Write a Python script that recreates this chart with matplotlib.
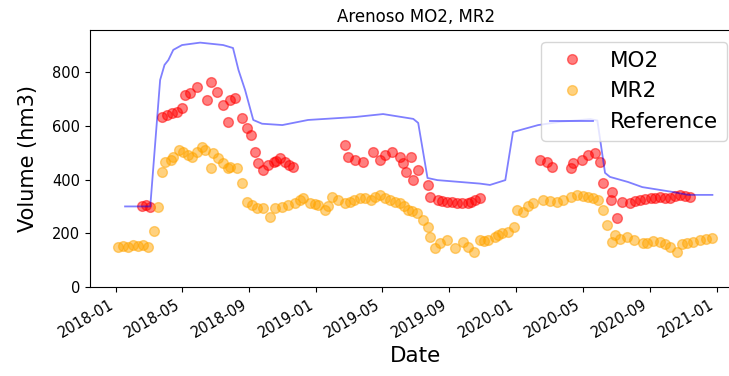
import matplotlib
matplotlib.use("Agg")
import matplotlib.pyplot as plt
import matplotlib.dates as mdates
import pandas as pd

# Reservoir volume series (hm3)
mo2_dates = [
    "2018-02-17", "2018-02-25", "2018-03-04", "2018-03-26", "2018-04-04", "2018-04-13",
    "2018-04-22", "2018-05-01", "2018-05-07", "2018-05-16", "2018-05-29", "2018-06-16",
    "2018-06-23", "2018-07-04", "2018-07-15", "2018-07-23", "2018-07-28", "2018-08-06",
    "2018-08-19", "2018-08-28", "2018-09-03", "2018-09-12", "2018-09-17", "2018-09-26",
    "2018-10-05", "2018-10-15", "2018-10-20", "2018-10-27", "2018-11-05", "2018-11-13",
    "2018-11-20", "2019-02-23", "2019-02-28", "2019-03-13", "2019-03-28", "2019-04-15",
    "2019-04-28", "2019-05-07", "2019-05-20", "2019-06-03", "2019-06-09", "2019-06-14",
    "2019-06-22", "2019-06-27", "2019-07-06", "2019-07-23", "2019-07-28", "2019-08-12",
    "2019-08-19", "2019-08-28", "2019-09-06", "2019-09-15", "2019-09-24", "2019-10-04",
    "2019-10-11", "2019-10-18", "2019-10-27", "2020-02-14", "2020-02-27", "2020-03-07",
    "2020-04-09", "2020-04-14", "2020-04-30", "2020-05-11", "2020-05-24", "2020-06-02",
    "2020-06-08", "2020-06-21", "2020-06-24", "2020-07-03", "2020-07-12", "2020-07-27",
    "2020-08-05", "2020-08-14", "2020-08-23", "2020-09-02", "2020-09-11", "2020-09-20",
    "2020-09-29", "2020-10-08", "2020-10-17", "2020-10-26", "2020-11-04", "2020-11-14",
]
mo2_values = [
    300, 305, 298, 633, 640, 648,
    652, 667, 715, 722, 745, 696,
    763, 726, 678, 615, 696, 704,
    629, 592, 566, 503, 462, 436,
    454, 466, 470, 480, 466, 455,
    447, 529, 484, 473, 466, 503,
    473, 492, 503, 484, 462, 428,
    484, 398, 436, 380, 335, 324,
    320, 317, 315, 313, 312, 313,
    315, 324, 331, 473, 466, 447,
    443, 462, 473, 492, 499, 466,
    387, 324, 354, 257, 317, 313,
    320, 324, 328, 331, 330, 335,
    333, 331, 338, 343, 340, 335,
]

mr2_dates = [
    "2018-01-05", "2018-01-14", "2018-01-23", "2018-02-01", "2018-02-10", "2018-02-19",
    "2018-02-28", "2018-03-11", "2018-03-19", "2018-03-26", "2018-03-31", "2018-04-10",
    "2018-04-15", "2018-04-26", "2018-05-03", "2018-05-12", "2018-05-20", "2018-05-29",
    "2018-06-07", "2018-06-12", "2018-06-22", "2018-06-27", "2018-07-06", "2018-07-15",
    "2018-07-23", "2018-07-28", "2018-08-10", "2018-08-19", "2018-08-28", "2018-09-06",
    "2018-09-15", "2018-09-26", "2018-10-09", "2018-10-18", "2018-10-31", "2018-11-11",
    "2018-11-24", "2018-12-03", "2018-12-08", "2018-12-21", "2018-12-30", "2019-01-05",
    "2019-01-17", "2019-01-23", "2019-01-30", "2019-02-10", "2019-02-23", "2019-03-04",
    "2019-03-10", "2019-03-22", "2019-03-31", "2019-04-10", "2019-04-19", "2019-04-28",
    "2019-05-07", "2019-05-16", "2019-05-25", "2019-06-03", "2019-06-11", "2019-06-18",
    "2019-06-25", "2019-07-04", "2019-07-15", "2019-07-24", "2019-07-28", "2019-08-06",
    "2019-08-15", "2019-08-28", "2019-09-12", "2019-09-26", "2019-10-05", "2019-10-15",
    "2019-10-27", "2019-11-04", "2019-11-11", "2019-11-24", "2019-11-29", "2019-12-06",
    "2019-12-17", "2019-12-27", "2020-01-03", "2020-01-14", "2020-01-23", "2020-02-01",
    "2020-02-19", "2020-03-03", "2020-03-16", "2020-03-27", "2020-04-09", "2020-04-21",
    "2020-05-02", "2020-05-11", "2020-05-20", "2020-05-30", "2020-06-08", "2020-06-15",
    "2020-06-24", "2020-06-30", "2020-07-09", "2020-07-22", "2020-08-02", "2020-08-20",
    "2020-08-27", "2020-09-07", "2020-09-20", "2020-09-29", "2020-10-08", "2020-10-21",
    "2020-10-30", "2020-11-08", "2020-11-19", "2020-12-02", "2020-12-13", "2020-12-24",
]
mr2_values = [
    148, 152, 150, 155, 152, 158,
    150, 208, 298, 428, 465, 473,
    484, 510, 503, 492, 484, 503,
    521, 510, 443, 499, 480, 462,
    443, 447, 443, 387, 317, 305,
    294, 294, 261, 294, 298, 305,
    313, 325, 331, 313, 310, 305,
    287, 300, 335, 324, 313, 318,
    324, 331, 330, 324, 335, 343,
    333, 324, 318, 313, 300, 287,
    283, 276, 250, 224, 186, 145,
    164, 175, 145, 168, 150, 130,
    175, 170, 175, 186, 192, 201,
    205, 224, 287, 279, 300, 313,
    324, 320, 317, 325, 335, 343,
    340, 335, 330, 324, 287, 231,
    168, 194, 180, 186, 175, 164,
    164, 172, 168, 160, 149, 130,
    160, 164, 168, 175, 178, 182,
]

ref_dates = [
    "2018-01-17", "2018-03-04", "2018-03-22", "2018-03-30", "2018-04-06", "2018-04-15",
    "2018-05-01", "2018-06-03", "2018-07-15", "2018-08-02", "2018-08-12", "2018-08-24",
    "2018-09-08", "2018-09-24", "2018-10-31", "2018-12-17", "2019-03-13", "2019-05-03",
    "2019-06-27", "2019-07-06", "2019-07-23", "2019-08-10", "2019-10-27", "2019-11-14",
    "2019-12-12", "2019-12-26", "2020-02-10", "2020-03-21", "2020-05-15", "2020-05-28",
    "2020-06-11", "2020-06-20", "2020-07-23", "2020-08-18", "2020-10-12", "2020-11-10",
    "2020-12-24",
]
ref_values = [
    300, 300, 771, 827, 845, 883,
    901, 910, 901, 890, 808, 734,
    622, 608, 603, 622, 633, 644,
    626, 611, 406, 398, 385, 380,
    398, 577, 603, 615, 625, 620,
    425, 410, 391, 372, 354, 343,
    343,
]

mo2 = pd.Series(mo2_values, index=pd.to_datetime(mo2_dates))
mr2 = pd.Series(mr2_values, index=pd.to_datetime(mr2_dates))
ref = pd.Series(ref_values, index=pd.to_datetime(ref_dates))

fig = plt.figure(figsize=(7.29, 3.76), dpi=100)
# axes run past the right edge of the canvas
ax = fig.add_axes([90 / 729, 89 / 376, 652 / 729, 257 / 376])

ax.plot(mo2.index, mo2.values, "o", color="red", alpha=0.5, ms=7, label="MO2")
ax.plot(mr2.index, mr2.values, "o", color="orange", alpha=0.5, ms=7, label="MR2")
ax.plot(ref.index, ref.values, "-", color="blue", alpha=0.5, lw=1.3, label="Reference")

ax.set_xlim(pd.Timestamp("2017-11-14"), pd.Timestamp("2021-02-16"))
ax.set_ylim(0, 957)
ax.xaxis.set_major_locator(mdates.MonthLocator(bymonth=[1, 5, 9]))
ax.xaxis.set_major_formatter(mdates.DateFormatter("%Y-%m"))
plt.setp(ax.get_xticklabels(), rotation=30, ha="right")
ax.tick_params(labelsize=10.5)

ax.set_title("Arenoso MO2, MR2", fontsize=12)
ax.set_xlabel("Date", fontsize=15.5)
ax.set_ylabel("Volume (hm3)", fontsize=15, labelpad=10)
ax.legend(loc="upper right", bbox_to_anchor=(727 / 729, 1 - 42 / 376),
          bbox_transform=fig.transFigure, borderaxespad=0, fontsize=15.5)

fig.savefig("out.png", dpi=100)
